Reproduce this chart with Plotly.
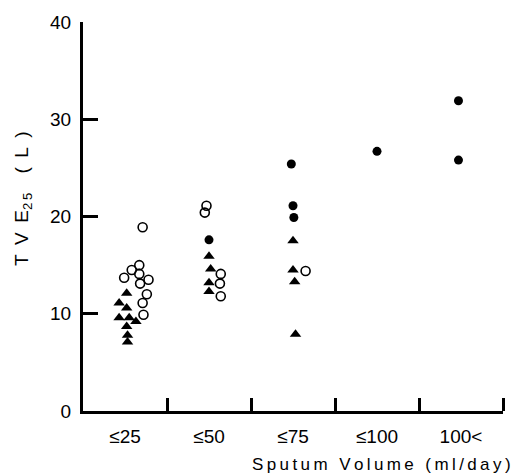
import plotly.graph_objects as go

# Category labels (x axis) and boundaries
categories = ["≤25", "≤50", "≤75", "≤100", "100<"]
cat_centers = [0.5, 1.5, 2.5, 3.5, 4.5]
cat_bounds = [1, 2, 3, 4, 5]
y_ticks = [0, 10, 20, 30, 40]

# Open circles (x position in category units, TVE25 value)
open_x = [0.71, 0.67, 0.58, 0.67, 0.49, 0.78, 0.68, 0.76, 0.71, 0.72,
          1.47, 1.45, 1.64, 1.63, 1.64,
          2.65]
open_y = [18.9, 15.0, 14.5, 14.1, 13.7, 13.5, 13.1, 12.0, 11.1, 9.9,
          21.1, 20.4, 14.1, 13.1, 11.8,
          14.4]

# Filled triangles
tri_x = [0.52, 0.43, 0.52, 0.43, 0.55, 0.63, 0.52, 0.53, 0.53,
         1.50, 1.52, 1.50, 1.50,
         2.50, 2.50, 2.52, 2.53]
tri_y = [12.1, 11.1, 10.6, 9.6, 9.6, 9.2, 8.7, 7.8, 7.1,
         15.9, 14.6, 13.2, 12.3,
         17.5, 14.5, 13.3, 7.9]

# Filled circles
dot_x = [1.50, 2.48, 2.50, 2.51, 3.50, 4.47, 4.47]
dot_y = [17.6, 25.4, 21.1, 19.9, 26.7, 31.9, 25.8]

FONT = "Liberation Sans, Arial, sans-serif"
TS = "\u2009"  # thin space for letter spacing
ES = "\u2002"  # en space
x_title = TS.join("Sputum Volume (ml/day)")
y_title = f"T{ES}V{ES}E<sub>2{TS}5</sub>{ES}{ES}({ES}L{ES})"

fig = go.Figure()
fig.add_trace(go.Scatter(x=open_x, y=open_y, mode="markers",
                         marker=dict(symbol="circle-open", size=9, color="black",
                                     line=dict(width=1.6, color="black"))))
fig.add_trace(go.Scatter(x=tri_x, y=tri_y, mode="markers",
                         marker=dict(symbol="triangle-up", size=10, color="black")))
fig.add_trace(go.Scatter(x=dot_x, y=dot_y, mode="markers",
                         marker=dict(symbol="circle", size=9, color="black")))

fig.update_layout(
    width=515, height=476,
    margin=dict(l=83, r=12, t=15, b=65),
    paper_bgcolor="white", plot_bgcolor="white",
    showlegend=False,
    font=dict(family=FONT, size=18, color="black"),
    xaxis=dict(range=[0, 5], tickvals=cat_centers, ticktext=categories,
               ticks="", showgrid=False, zeroline=False,
               showline=True, linewidth=3, linecolor="black",
               ticklabelstandoff=6, tickfont=dict(size=19, color="black"),
               minor=dict(tickvals=cat_bounds, ticks="inside", ticklen=13,
                          tickwidth=3, tickcolor="black", showgrid=False)),
    yaxis=dict(range=[0, 40], tickvals=y_ticks, ticks="inside", ticklen=15,
               tickwidth=3, tickcolor="black", showgrid=False, zeroline=False,
               showline=True, linewidth=3, linecolor="black",
               ticklabelstandoff=5, tickfont=dict(size=19, color="black")),
    annotations=[
        dict(text=x_title, xref="paper", yref="paper",
             x=1, y=0, xanchor="right", yanchor="top", xshift=10, yshift=-42,
             showarrow=False, font=dict(family=FONT, size=17, color="black")),
        dict(text=y_title, xref="paper", yref="paper",
             x=0, y=0.545, xanchor="center", yanchor="middle", xshift=-60,
             textangle=-90, showarrow=False,
             font=dict(family=FONT, size=19, color="black")),
    ],
)

fig.write_html("out.html")
